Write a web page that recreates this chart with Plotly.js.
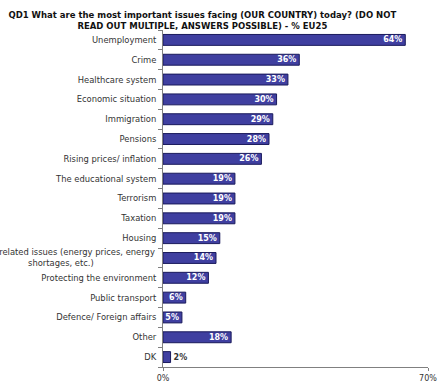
<!DOCTYPE html>
<html>
<head>
<meta charset="utf-8">
<script src="https://cdn.plot.ly/plotly-3.0.1.min.js"></script>
<style>html,body{margin:0;padding:0;background:#fff;}#chart{width:438px;height:382px;}</style>
</head>
<body>
<div id="chart"></div>
<script>
var titleText = "QD1 What are the most important issues facing (OUR COUNTRY) today? (DO NOT<br>READ OUT MULTIPLE, ANSWERS POSSIBLE) - % EU25";
var categories = [
  "Unemployment",
  "Crime",
  "Healthcare system",
  "Economic situation",
  "Immigration",
  "Pensions",
  "Rising prices/ inflation",
  "The educational system",
  "Terrorism",
  "Taxation",
  "Housing",
  "Energy-related issues (energy prices, energy<br>shortages, etc.)",
  "Protecting the environment",
  "Public transport",
  "Defence/ Foreign affairs",
  "Other",
  "DK"
];
var values = [64, 36, 33, 30, 29, 28, 26, 19, 19, 19, 15, 14, 12, 6, 5, 18, 2];
var xTickVals = [0, 70];
var xTickText = ["0%", "70%"];
var multiLineLabel = categories[11];

var labels = values.map(function (v) { return v + "%"; });
var positions = values.map(function (v) { return v < 4 ? "outside" : "inside"; });
var tickText = categories.map(function (c) { return c === multiLineLabel ? "" : c; });

var trace = {
  type: "bar",
  orientation: "h",
  y: categories,
  x: values,
  text: labels,
  textposition: positions,
  insidetextanchor: "end",
  constraintext: "none",
  cliponaxis: false,
  insidetextfont: {family: "DejaVu Sans", size: 8, color: "#ffffff", weight: "bold"},
  outsidetextfont: {family: "DejaVu Sans", size: 8, color: "#333333", weight: "bold"},
  marker: {color: "#3f3fa0", line: {color: "#1a1a5c", width: 1}},
  width: 0.55,
  hoverinfo: "none"
};

var layout = {
  width: 438,
  height: 382,
  margin: {l: 163, r: 10, t: 30, b: 15},
  paper_bgcolor: "#ffffff",
  plot_bgcolor: "#ffffff",
  showlegend: false,
  title: {
    text: "<b>" + titleText + "</b>",
    font: {family: "DejaVu Sans", size: 8.5, color: "#111111"},
    x: 0.462, xanchor: "center",
    y: 0.953, yanchor: "top"
  },
  xaxis: {
    range: [0, 70],
    tickvals: xTickVals,
    ticktext: xTickText,
    showgrid: false,
    zeroline: false,
    showline: true,
    linecolor: "#808080",
    linewidth: 1,
    ticks: "outside",
    ticklen: 3,
    tickcolor: "#808080",
    tickfont: {family: "DejaVu Sans", size: 8, color: "#333333"},
    automargin: false,
    fixedrange: true
  },
  yaxis: {
    type: "category",
    categoryorder: "array",
    categoryarray: categories,
    autorange: "reversed",
    tickvals: categories,
    ticktext: tickText,
    tickson: "boundaries",
    showgrid: false,
    zeroline: false,
    showline: true,
    linecolor: "#808080",
    linewidth: 1,
    ticks: "outside",
    ticklen: 4,
    tickcolor: "#808080",
    tickfont: {family: "DejaVu Sans", size: 8.4, color: "#333333"},
    ticklabelstandoff: 4,
    automargin: false,
    fixedrange: true
  },
  annotations: [{
    xref: "paper", yref: "y",
    x: 0, y: multiLineLabel,
    xanchor: "right", yanchor: "middle",
    xshift: -6,
    align: "center",
    showarrow: false,
    text: multiLineLabel,
    font: {family: "DejaVu Sans", size: 8.4, color: "#333333"}
  }]
};

Plotly.newPlot("chart", [trace], layout, {displayModeBar: false, staticPlot: true});
</script>
</body>
</html>
